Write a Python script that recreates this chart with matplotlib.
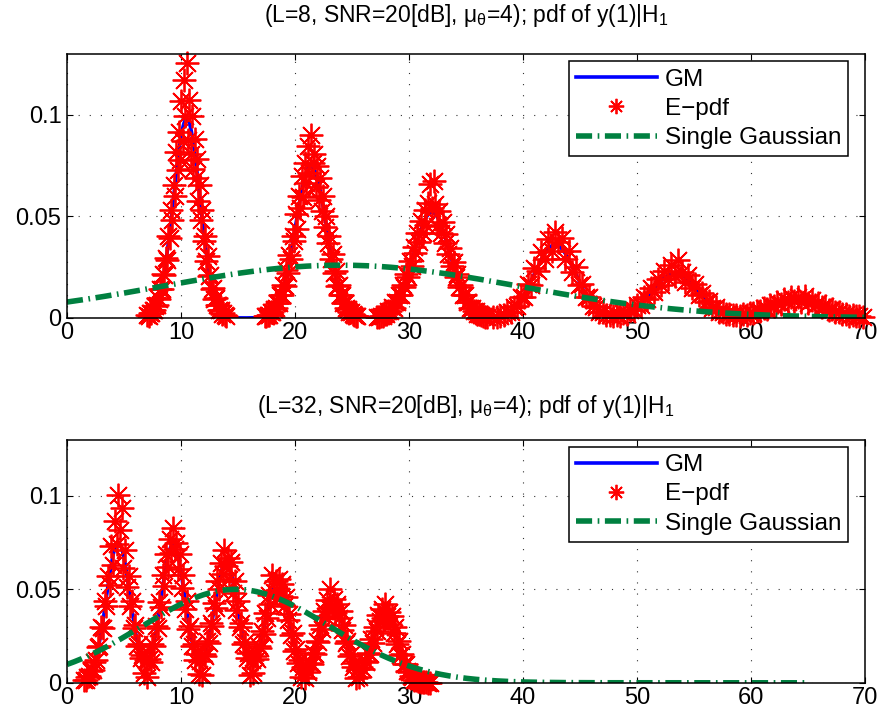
import numpy as np
import matplotlib
matplotlib.use("Agg")
from matplotlib import pyplot as plt
from matplotlib.ticker import FuncFormatter

plt.rcParams['font.family'] = ['Liberation Sans', 'DejaVu Sans']
plt.rcParams['mathtext.fontset'] = 'custom'
plt.rcParams['mathtext.rm'] = 'Liberation Sans'
plt.rcParams['mathtext.it'] = 'Liberation Sans'

## Titles / legend labels
top_title = r'(L=8, SNR=20[dB], $\mu_\theta$=4); pdf of y(1)|H$_1$'
bot_title = r'(L=32, SNR=20[dB], $\mu_\theta$=4); pdf of y(1)|H$_1$'
labels = ['GM', 'E\u2212pdf', 'Single Gaussian']

## GM components (centre, peak height, width)
top_gm_means = [10.5, 21.4, 32.0, 42.8, 53.3, 64.0]
top_gm_heights = [0.098, 0.075, 0.052, 0.036, 0.022, 0.009]
top_gm_sigmas = [1.15, 1.35, 1.6, 1.8, 2.0, 2.4]
top_gm_range = [7.0, 70.0]

bot_gm_means = [4.5, 9.3, 13.95, 18.45, 23.25, 27.9]
bot_gm_heights = [0.075, 0.074, 0.064, 0.055, 0.046, 0.039]
bot_gm_sigmas = [1.05, 1.05, 1.05, 1.05, 1.05, 1.05]
bot_gm_range = [1.5, 32.0]

## Single Gaussian (mean, sigma, peak) and x range
top_sg = [24.0, 15.5, 0.026]
top_sg_range = [0.0, 70.0]
bot_sg = [14.8, 8.2, 0.050]
bot_sg_range = [0.0, 65.0]

## E-pdf samples: start x, step, values
top_epdf_x0 = [7.05, 17.35, 27.2, 37.4]
top_epdf_dx = [0.115, 0.135, 0.16, 0.3]
top_epdf_y = [
    [0.0014, 0.0012, 0.0024, 0.0023, 0.0038, 0.0037, 0.0061, 0.0063, 0.0100, 0.0095,
     0.0145, 0.0145, 0.0217, 0.0213, 0.0294, 0.0287, 0.0405, 0.0392, 0.0534, 0.0482,
     0.0655, 0.0602, 0.0818, 0.0729, 0.0916, 0.0778, 0.1068, 0.0871, 0.1171, 0.0995,
     0.1254,
     0.0878, 0.1075, 0.0806, 0.0996, 0.0734, 0.0883, 0.0690, 0.0782, 0.0576, 0.0655,
     0.0482, 0.0534, 0.0379, 0.0405, 0.0281, 0.0305, 0.0208, 0.0213, 0.0145, 0.0148,
     0.0095, 0.0096, 0.0063, 0.0063, 0.0039, 0.0040, 0.0021, 0.0024, 0.0014, 0.0012],
    [0.0010, 0.0010, 0.0017, 0.0017, 0.0031, 0.0030, 0.0046, 0.0047, 0.0075, 0.0075,
     0.0111, 0.0113, 0.0164, 0.0159, 0.0234, 0.0220, 0.0309, 0.0291, 0.0402, 0.0381,
     0.0510, 0.0440, 0.0600, 0.0540, 0.0701, 0.0596, 0.0761, 0.0667, 0.0845, 0.0716,
     0.0900,
     0.0761, 0.0809, 0.0645, 0.0747, 0.0583, 0.0689, 0.0528, 0.0600, 0.0450, 0.0501,
     0.0369, 0.0402, 0.0291, 0.0315, 0.0220, 0.0230, 0.0159, 0.0164, 0.0111, 0.0113,
     0.0073, 0.0074, 0.0048, 0.0046, 0.0030, 0.0030, 0.0018, 0.0017, 0.0010, 0.0009],
    [0.0007, 0.0007, 0.0012, 0.0012, 0.0021, 0.0020, 0.0033, 0.0033, 0.0052, 0.0051,
     0.0078, 0.0077, 0.0115, 0.0112, 0.0162, 0.0152, 0.0216, 0.0204, 0.0280, 0.0258,
     0.0350, 0.0318, 0.0418, 0.0372, 0.0480, 0.0420, 0.0530, 0.0460, 0.0565, 0.0660,
     0.0540,
     0.0675, 0.0560, 0.0455, 0.0525, 0.0420, 0.0475, 0.0370, 0.0415, 0.0315, 0.0345,
     0.0258, 0.0278, 0.0203, 0.0215, 0.0153, 0.0160, 0.0111, 0.0113, 0.0077, 0.0077,
     0.0051, 0.0051, 0.0033, 0.0032, 0.0021, 0.0020, 0.0013, 0.0011, 0.0007, 0.0007],
    [0.0005, 0.0006, 0.0012, 0.0014, 0.0028, 0.0031, 0.0056, 0.0060, 0.0102, 0.0105,
     0.0168, 0.0162, 0.0248, 0.0230, 0.0325, 0.0290, 0.0390, 0.0330, 0.0425, 0.0372,
     0.0395, 0.0290, 0.0330, 0.0226, 0.0250, 0.0160, 0.0168, 0.0102, 0.0105, 0.0058,
     0.0056, 0.0030, 0.0029, 0.0015, 0.0017, 0.0010, 0.0016, 0.0012, 0.0022, 0.0021,
     0.0038, 0.0039, 0.0064, 0.0063, 0.0102, 0.0095, 0.0146, 0.0130, 0.0192, 0.0163,
     0.0232, 0.0190, 0.0262, 0.0205, 0.0285, 0.0225, 0.0176, 0.0210, 0.0146, 0.0168,
     0.0112, 0.0122, 0.0077, 0.0082, 0.0050, 0.0052, 0.0030, 0.0030, 0.0018, 0.0020,
     0.0013, 0.0016, 0.0012, 0.0018, 0.0016, 0.0024, 0.0023, 0.0036, 0.0033, 0.0050,
     0.0045, 0.0066, 0.0057, 0.0081, 0.0068, 0.0094, 0.0077, 0.0102, 0.0082, 0.0105,
     0.0080, 0.0110, 0.0075, 0.0090, 0.0065, 0.0076, 0.0053, 0.0060, 0.0040, 0.0045,
     0.0029, 0.0031, 0.0019, 0.0021, 0.0012, 0.0013, 0.0008, 0.0009, 0.0006],
]

bot_epdf_x0 = [1.5]
bot_epdf_dx = [0.15]
bot_epdf_y = [
    [0.0015, 0.0015, 0.0032, 0.0035, 0.0062, 0.0068, 0.0111, 0.0121, 0.0194, 0.0196,
     0.0297, 0.0295, 0.0437, 0.0410, 0.0572, 0.0523, 0.0733, 0.0629, 0.0864, 0.0743,
     0.1005, 0.0817, 0.0936, 0.0616, 0.0713, 0.0511, 0.0572, 0.0410, 0.0439, 0.0291,
     0.0308, 0.0199, 0.0205, 0.0130, 0.0147, 0.0050, 0.0120, 0.0030, 0.0128, 0.0113,
     0.0210, 0.0196, 0.0304, 0.0293, 0.0433, 0.0405, 0.0575, 0.0517, 0.0691, 0.0621,
     0.0767, 0.0696, 0.0829, 0.0718, 0.0746, 0.0608, 0.0691, 0.0505, 0.0576, 0.0397,
     0.0435, 0.0289, 0.0306, 0.0199, 0.0205, 0.0124, 0.0154, 0.0045, 0.0119, 0.0040,
     0.0155, 0.0141, 0.0223, 0.0214, 0.0319, 0.0302, 0.0429, 0.0401, 0.0546, 0.0500,
     0.0642, 0.0583, 0.0710, 0.0627, 0.0666, 0.0553, 0.0644, 0.0479, 0.0547, 0.0392,
     0.0437, 0.0297, 0.0320, 0.0210, 0.0220, 0.0134, 0.0157, 0.0040, 0.0121, 0.0050,
     0.0145, 0.0128, 0.0197, 0.0188, 0.0277, 0.0262, 0.0371, 0.0345, 0.0470, 0.0420,
     0.0577, 0.0486, 0.0545, 0.0495, 0.0556, 0.0465, 0.0527, 0.0411, 0.0460, 0.0335,
     0.0369, 0.0253, 0.0266, 0.0171, 0.0182, 0.0108, 0.0121, 0.0030, 0.0084, 0.0025,
     0.0075, 0.0057, 0.0106, 0.0098, 0.0157, 0.0153, 0.0223, 0.0217, 0.0308, 0.0287,
     0.0386, 0.0360, 0.0441, 0.0398, 0.0500, 0.0405, 0.0446, 0.0376, 0.0420, 0.0344,
     0.0386, 0.0282, 0.0308, 0.0212, 0.0224, 0.0145, 0.0155, 0.0087, 0.0106, 0.0025,
     0.0075, 0.0030, 0.0085, 0.0073, 0.0117, 0.0109, 0.0162, 0.0156, 0.0236, 0.0214,
     0.0297, 0.0278, 0.0364, 0.0328, 0.0393, 0.0347, 0.0421, 0.0355, 0.0381, 0.0313,
     0.0357, 0.0266, 0.0297, 0.0209, 0.0223, 0.0150, 0.0154, 0.0099, 0.0101, 0.0061,
     0.0059, 0.0034, 0.0033, 0.0017, 0.0017, 0.0008, 0.0008, 0.0004, 0.0003, 0.0002,
     0.0002, 0.0001, 0.0001],
]

## Axis settings
x_ticks = [0, 10, 20, 30, 40, 50, 60, 70]
y_ticks = [0, 0.05, 0.1]
x_lim = [0, 70]
y_lim = [0, 0.13]

GREEN = (0.0, 0.5, 0.25)


def mixture(x, means, heights, sigmas):
    y = np.zeros_like(x)
    for m, h, s in zip(means, heights, sigmas):
        y += h * np.exp(-0.5 * ((x - m) / s) ** 2)
    return y


def DrawPanel(ax, title, pad, gm, gm_range, sg, sg_range, ex0, edx, ey, leg_y):
    ## GM curve
    xg = np.linspace(gm_range[0], gm_range[1], 1500)
    hg, = ax.plot(xg, mixture(xg, *gm), color='b', lw=2.6, zorder=2)

    ## E-pdf samples (markers may spill past the axes, as in matlab)
    ex = []
    ey_all = []
    for x0, dx, vals in zip(ex0, edx, ey):
        ex.extend(x0 + dx * np.arange(len(vals)))
        ey_all.extend(vals)
    he, = ax.plot(ex, ey_all, linestyle='none', marker=(8, 2, 0),
                  markersize=17, markeredgewidth=1.3, color='r', zorder=3,
                  clip_on=False)

    ## Single Gaussian
    xs = np.linspace(sg_range[0], sg_range[1], 800)
    ys = sg[2] * np.exp(-0.5 * ((xs - sg[0]) / sg[1]) ** 2)
    hs, = ax.plot(xs, ys, color=GREEN, lw=4,
                  linestyle=(0, (2.9, 1.0, 0.3, 1.0)), dash_capstyle='butt',
                  zorder=4)

    ax.set_xlim(x_lim)
    ax.set_ylim(y_lim)
    ax.set_xticks(x_ticks)
    ax.set_yticks(y_ticks)
    ax.yaxis.set_major_formatter(FuncFormatter(lambda v, p: '0' if v == 0 else '%g' % v))
    ax.tick_params(direction='in', top=True, right=True, length=4.5, width=0.8,
                   labelsize=17)
    ax.tick_params(axis='x', pad=3)
    ax.tick_params(axis='y', pad=4)
    for sp in ax.spines.values():
        sp.set_linewidth(1.1)
        sp.set_zorder(5)
    ax.set_axisbelow(True)
    ax.grid(True, color='0.2', linestyle=(0, (1, 9)), linewidth=0.8)
    ax.set_title(title, fontsize=16.5, pad=pad)

    leg = ax.legend([hg, he, hs], labels, loc='upper right',
                    bbox_to_anchor=(0.979, leg_y), borderaxespad=0,
                    fontsize=17.5, fancybox=False, framealpha=1, edgecolor='k',
                    handlelength=3.3, handletextpad=0.33, labelspacing=0.3,
                    borderpad=0.3, numpoints=1, markerscale=0.65)
    leg.get_frame().set_linewidth(1.1)
    leg.set_zorder(6)


fig = plt.figure(figsize=(8.81, 7.21), dpi=100)
ax1 = fig.add_axes([0.076, 0.559, 0.906, 0.366])
ax2 = fig.add_axes([0.076, 0.053, 0.906, 0.337])

DrawPanel(ax1, top_title, 23,
          (top_gm_means, top_gm_heights, top_gm_sigmas), top_gm_range,
          top_sg, top_sg_range, top_epdf_x0, top_epdf_dx, top_epdf_y, 0.973)
DrawPanel(ax2, bot_title, 19,
          (bot_gm_means, bot_gm_heights, bot_gm_sigmas), bot_gm_range,
          bot_sg, bot_sg_range, bot_epdf_x0, bot_epdf_dx, bot_epdf_y, 0.971)

plt.savefig('out.png', dpi=100)
